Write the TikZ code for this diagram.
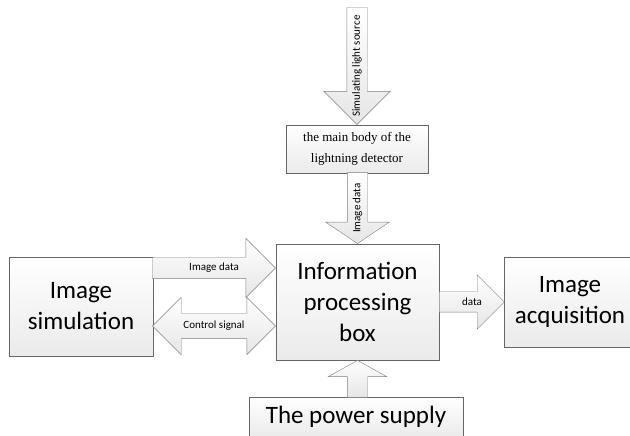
\documentclass[tikz,border=0pt]{standalone}
\usepackage{fontspec}
\setmainfont{Carlito}
\newfontfamily\timesfont{Liberation Serif}
\usetikzlibrary{shapes.arrows,shadows,calc}
\tikzset{
    x=1pt, y=1pt,
    block/.style = {draw=black!60, top color=white, bottom color=black!8, rectangle, align=center, inner sep=0pt, drop shadow={shadow xshift=1.2pt, shadow yshift=-1.2pt, fill=black!40, opacity=.7}, font=\fontsize{25}{31}\selectfont},
    fat-arrow/.style = {single arrow, draw=black!50, top color=white, bottom color=black!10, inner xsep=0pt, text height=0pt, text depth=0pt},
    fat-double/.style = {double arrow, draw=black!50, top color=white, bottom color=black!10, inner xsep=0pt, text height=0pt, text depth=0pt},
    arrow-label/.style = {inner sep=0pt, font=\fontsize{11}{13}\selectfont},
}
\begin{document}
\begin{tikzpicture}
\useasboundingbox (0,0) rectangle (630,436);
\clip (0,0) rectangle (630,436);
% boxes
\node[block, font=\timesfont\fontsize{13}{21}\selectfont, minimum width=142, minimum height=48] (body) at (357,287) {the main body of the\\lightning detector};
\node[block, minimum width=163, minimum height=116] (info) at (357.5,134) {Information\\processing\\box};
\node[block, minimum width=144, minimum height=99] (sim) at (81,129.5) {Image\\simulation};
\node[block, minimum width=132, minimum height=90] (acq) at (570,134) {Image\\acquisition};
\node[block, minimum width=214, minimum height=40] (power) at (356,19) {The power supply};
% arrows
\node[fat-arrow, rotate=-90, anchor=tip, minimum height=117, inner ysep=10, single arrow head extend=23] (srcarrow) at (body.north) {};
\node[arrow-label, rotate=90] (srclabel) at ($(srcarrow.tip)!0.5!(srcarrow.tail)$) {Simulating light source};
\node[fat-arrow, rotate=-90, anchor=tip, minimum height=71, inner ysep=10, single arrow head extend=21.5, single arrow tip angle=112] (vdata) at (info.north) {};
\node[arrow-label, rotate=90] (vdatalabel) at ($(vdata.tip)!0.5!(vdata.tail)$) {Image data};
\node[fat-arrow, anchor=tip, minimum height=123, inner ysep=10.5, single arrow head extend=19] (hdata) at ([yshift=34]info.west) {};
\node[arrow-label] (hdatalabel) at ($(hdata.tip)!0.5!(hdata.tail)$) {Image data};
\node[fat-double, anchor=east, minimum height=123, inner ysep=12.5, double arrow head extend=16] (ctrl) at ([yshift=-24]info.west) {};
\node[arrow-label] (ctrllabel) at (ctrl.center) {Control signal};
\node[fat-arrow, anchor=tail, minimum height=65, inner ysep=10, single arrow head extend=17] (out) at (info.east) {};
\node[arrow-label] (outlabel) at ($(out.tip)!0.5!(out.tail)$) {data};
\node[fat-arrow, rotate=90, anchor=tip, minimum height=37, inner ysep=10, single arrow head extend=19, single arrow tip angle=122] (supply) at (info.south) {};
\end{tikzpicture}
\end{document}
